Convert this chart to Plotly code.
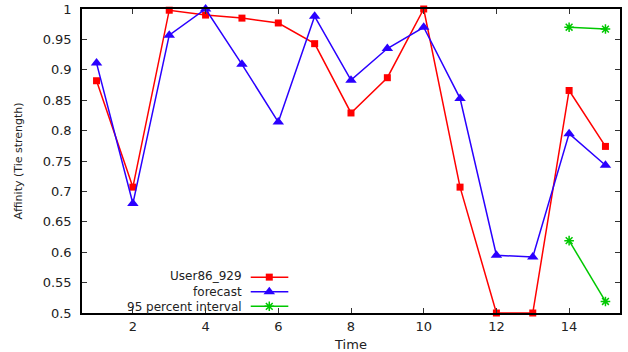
import plotly.graph_objects as go

time = list(range(1, 16))
user_vals = [0.882, 0.707, 0.998, 0.990, 0.985, 0.977, 0.943, 0.829, 0.887, 1.000,
             0.707, 0.500, 0.500, 0.866, 0.774]
forecast_vals = [0.911, 0.680, 0.957, 1.000, 0.909, 0.814, 0.988, 0.883, 0.935, 0.970,
                 0.853, 0.595, 0.592, 0.795, 0.743]
interval_x = [14, 15, None, 14, 15]
interval_y = [0.970, 0.967, None, 0.619, 0.519]

legend_names = ["User86_929", "forecast", "95 percent interval"]
RED, BLUE, GREEN = "#ff0000", "#2a00ff", "#00c800"
FONT = "DejaVu Sans"
TXT = "#222222"

fig = go.Figure()
fig.add_trace(go.Scatter(x=time, y=user_vals, mode="lines+markers",
                         line=dict(color=RED, width=1.5),
                         marker=dict(symbol="square", size=7, color=RED),
                         cliponaxis=False, showlegend=False))
fig.add_trace(go.Scatter(x=time, y=forecast_vals, mode="lines+markers",
                         line=dict(color=BLUE, width=1.5),
                         marker=dict(symbol="triangle-up", size=10, color=BLUE),
                         cliponaxis=False, showlegend=False))
fig.add_trace(go.Scatter(x=interval_x, y=interval_y, mode="lines+markers",
                         line=dict(color=GREEN, width=1.5),
                         marker=dict(symbol="asterisk-open", size=8,
                                     line=dict(color=GREEN, width=1.5)),
                         cliponaxis=False, showlegend=False, connectgaps=False))

# gnuplot-style key: text right-aligned, sample to its right (overlay axes 0..1)
key_rows = [0.118, 0.070, 0.022]
key_styles = [("square", 7, RED, None), ("triangle-up", 10, BLUE, None),
              ("asterisk-open", 8, GREEN, GREEN)]
for ky, (sym, sz, col, lc) in zip(key_rows, key_styles):
    fig.add_trace(go.Scatter(x=[0.3136, 0.3835], y=[ky, ky], mode="lines",
                             line=dict(color=col, width=1.5), xaxis="x2", yaxis="y2",
                             showlegend=False, hoverinfo="skip"))
    mk = dict(symbol=sym, size=sz, color=col)
    if lc:
        mk["line"] = dict(color=lc, width=1.5)
    fig.add_trace(go.Scatter(x=[0.3481], y=[ky], mode="markers", marker=mk,
                             xaxis="x2", yaxis="y2", showlegend=False, hoverinfo="skip"))
fig.add_annotation(x=0.2987, y=key_rows[1], xref="x2", yref="y2",
                   text="<br>".join(legend_names), align="right",
                   showarrow=False, xanchor="right", yanchor="middle",
                   borderpad=0, font=dict(family=FONT, size=12, color=TXT))

axis_common = dict(showline=True, linecolor="black", linewidth=1.5, mirror="ticks",
                   ticks="inside", ticklen=5, tickcolor="#333333", showgrid=False,
                   zeroline=False, automargin=False,
                   tickfont=dict(family=FONT, size=13, color=TXT))

fig.update_layout(
    width=628, height=352,
    margin=dict(l=82, r=8, t=9, b=39),
    plot_bgcolor="white", paper_bgcolor="white",
    xaxis=dict(range=[0.6, 15.4], tick0=2, dtick=2, ticklabelstandoff=1,
               title=dict(text="Time", font=dict(family=FONT, size=13, color=TXT),
                          standoff=15),
               **axis_common),
    yaxis=dict(range=[0.5, 1.0], tick0=0.5, dtick=0.05, ticklabelstandoff=6,
               title=dict(text="Affinity (Tie strength)",
                          font=dict(family=FONT, size=11, color=TXT), standoff=18),
               **axis_common),
    xaxis2=dict(range=[0, 1], overlaying="x", visible=False, fixedrange=True),
    yaxis2=dict(range=[0, 1], overlaying="y", visible=False, fixedrange=True),
)

fig.write_html("out.html", config={"displayModeBar": False},
               post_script="document.body.style.margin='0';")
